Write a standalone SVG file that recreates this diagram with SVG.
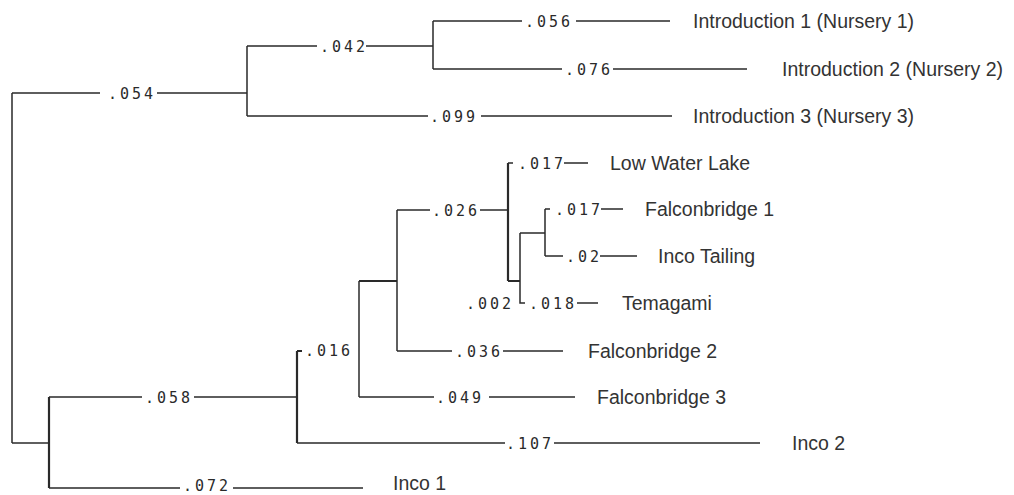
<svg xmlns="http://www.w3.org/2000/svg" width="1014" height="495" viewBox="0 0 1014 495">
<style>
.e{stroke:#2a2a2a;stroke-width:1.5;fill:none}
.t{stroke-width:2.2}
.n{font-family:"DejaVu Sans Mono","Liberation Mono",monospace;font-size:15px;letter-spacing:3px;fill:#2a2a2a}
.l{font-family:"Liberation Sans",Arial,sans-serif;font-size:19.5px;fill:#333}
</style>
<rect width="1014" height="495" fill="#fff"/>
<g id="connectors">
<path class="e" d="M12,93V443M12,93H100M157,93H247M247,46V116"/>
<path class="e" d="M247,46H317M366,46H433M433,21V69"/>
<path class="e" d="M433,21H522M576,21H670"/>
<path class="e" d="M433,69H562M613,69H747"/>
<path class="e" d="M247,116H428M481,116H672"/>
<path class="e" d="M12,443H49"/>
<path class="e t" d="M49,397V488"/>
<path class="e" d="M49,397H142M194,397H297"/>
<path class="e t" d="M297,351V443M297,351H302"/>
<path class="e" d="M297,443H505M554,443H760"/>
<path class="e" d="M49,488H180M233,488H363"/>
<path class="e" d="M359,281V397"/>
<path class="e" d="M359,397H434M489,397H575"/>
<path class="e t" d="M359,281H397"/>
<path class="e" d="M397,210V351"/>
<path class="e" d="M397,210H430M480,210H508"/>
<path class="e" d="M397,351H452M503,351H563"/>
<path class="e t" d="M508,163V281M508,281H520"/>
<path class="e" d="M508,163H513M564,163H588"/>
<path class="e" d="M520,233V303H525M520,233H545"/>
<path class="e" d="M577,303H598"/>
<path class="e" d="M545,209V256M545,209H550M601,209H623"/>
<path class="e" d="M545,256H563M600,256H637"/>
</g>
<g id="branch-labels">
<text class="n" x="108" y="98.5">.054</text>
<text class="n" x="320" y="51.5">.042</text>
<text class="n" x="525" y="26.5">.056</text>
<text class="n" x="565" y="74.5">.076</text>
<text class="n" x="430" y="121.5">.099</text>
<text class="n" x="145" y="402.5">.058</text>
<text class="n" x="305" y="355.5">.016</text>
<text class="n" x="506" y="448.5">.107</text>
<text class="n" x="183" y="491">.072</text>
<text class="n" x="436" y="402.5">.049</text>
<text class="n" x="432" y="215.5">.026</text>
<text class="n" x="455" y="356.5">.036</text>
<text class="n" x="518" y="168.5">.017</text>
<text class="n" x="555" y="214.5">.017</text>
<text class="n" x="566" y="261.5">.02</text>
<text class="n" x="466" y="308.5">.002</text>
<text class="n" x="529" y="308.5">.018</text>
</g>
<g id="node-intro1"><text class="l" x="693" y="28">Introduction 1 (Nursery 1)</text></g>
<g id="node-intro2"><text class="l" x="782" y="76">Introduction 2 (Nursery 2)</text></g>
<g id="node-intro3"><text class="l" x="693" y="123">Introduction 3 (Nursery 3)</text></g>
<g id="node-lowwater"><text class="l" x="610" y="170">Low Water Lake</text></g>
<g id="node-falcon1"><text class="l" x="645" y="216">Falconbridge 1</text></g>
<g id="node-incotailing"><text class="l" x="658" y="263">Inco Tailing</text></g>
<g id="node-temagami"><text class="l" x="622" y="310">Temagami</text></g>
<g id="node-falcon2"><text class="l" x="588" y="358">Falconbridge 2</text></g>
<g id="node-falcon3"><text class="l" x="597" y="404">Falconbridge 3</text></g>
<g id="node-inco2"><text class="l" x="792" y="450">Inco 2</text></g>
<g id="node-inco1"><text class="l" x="393" y="490">Inco 1</text></g>
</svg>
